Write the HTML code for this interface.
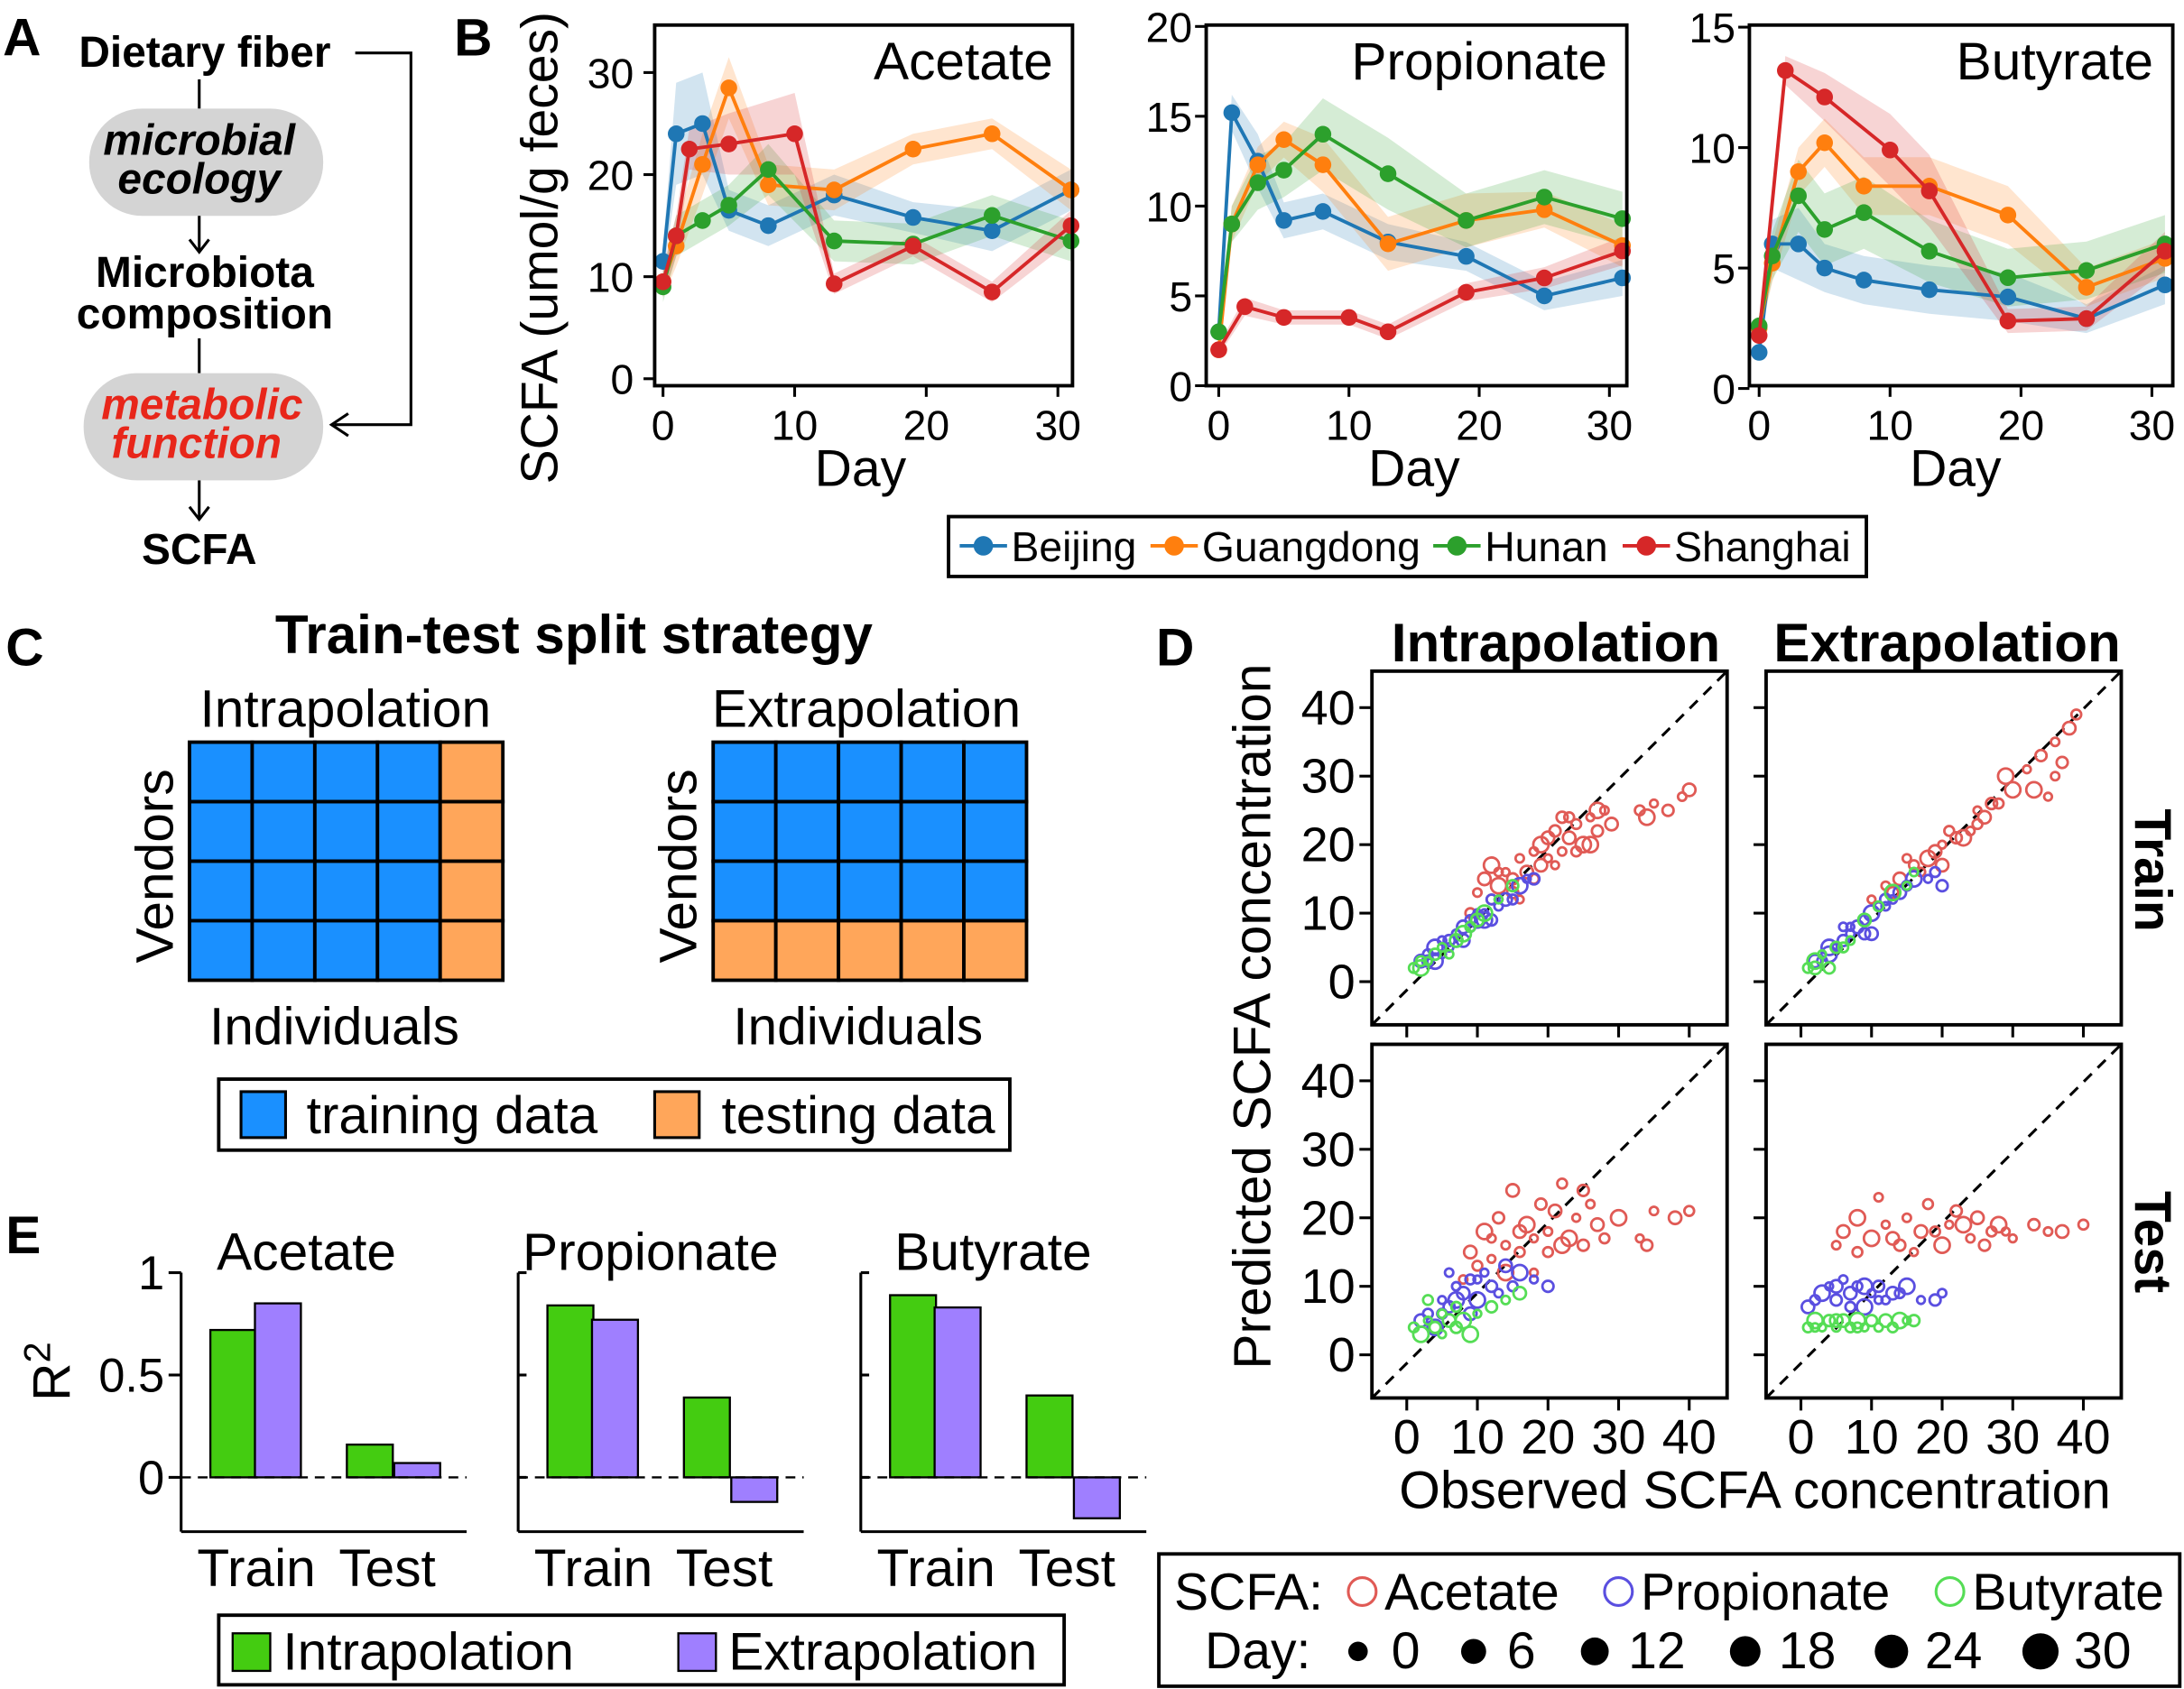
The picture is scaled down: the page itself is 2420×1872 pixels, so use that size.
<!DOCTYPE html>
<html><head><meta charset="utf-8"><style>
html,body{margin:0;padding:0;background:#fff}
svg{display:block}
text{font-family:"Liberation Sans",Arial,sans-serif;fill:#000}
</style></head><body>
<svg id="fig" width="2420" height="1872" viewBox="0 0 1568 1213" xmlns="http://www.w3.org/2000/svg">
<g>
<text x="2" y="40" font-size="38" font-weight="bold">A</text>
<text x="147" y="48" font-size="31" font-weight="bold" text-anchor="middle">Dietary fiber</text>
<polyline points="255,38 295,38 295,305 240,305" fill="none" stroke="#000" stroke-width="2"/>
<polyline points="250,297 238,305 250,313" fill="none" stroke="#000" stroke-width="2"/>
<line x1="143" y1="57" x2="143" y2="78" stroke="#000" stroke-width="2"/>
<rect x="64" y="78" width="168" height="77" rx="38" fill="#d4d4d4"/>
<text x="143" y="111" font-size="31" font-weight="bold" font-style="italic" text-anchor="middle">microbial</text>
<text x="143" y="139" font-size="31" font-weight="bold" font-style="italic" text-anchor="middle">ecology</text>
<line x1="143" y1="155" x2="143" y2="180" stroke="#000" stroke-width="2"/>
<polyline points="136,172 143,181 150,172" fill="none" stroke="#000" stroke-width="2"/>
<text x="147" y="206" font-size="31" font-weight="bold" text-anchor="middle">Microbiota</text>
<text x="147" y="236" font-size="31" font-weight="bold" text-anchor="middle">composition</text>
<line x1="143" y1="243" x2="143" y2="268" stroke="#000" stroke-width="2"/>
<rect x="60" y="268" width="172" height="77" rx="38" fill="#d4d4d4"/>
<text x="145" y="301" font-size="31" font-weight="bold" font-style="italic" text-anchor="middle" style="fill:#e8261a">metabolic</text>
<text x="141" y="329" font-size="31" font-weight="bold" font-style="italic" text-anchor="middle" style="fill:#e8261a">function</text>
<line x1="143" y1="345" x2="143" y2="372" stroke="#000" stroke-width="2"/>
<polyline points="136,364 143,373 150,364" fill="none" stroke="#000" stroke-width="2"/>
<text x="143" y="405" font-size="31" font-weight="bold" text-anchor="middle">SCFA</text>
</g>
<text x="326" y="40" font-size="38" font-weight="bold">B</text>
<text x="4" y="478" font-size="38" font-weight="bold">C</text>
<text x="830" y="478" font-size="38" font-weight="bold">D</text>
<text x="4" y="900" font-size="38" font-weight="bold">E</text>
<g id="gb"></g><g id="gc"></g><g id="gd"></g><g id="ge"></g>
</svg>
<script>
const NS='http://www.w3.org/2000/svg';
function mk(tag,attrs,parent){const e=document.createElementNS(NS,tag);for(const k in attrs)e.setAttribute(k,attrs[k]);parent.appendChild(e);return e;}
function tx(str,x,y,size,parent,extra){const e=mk('text',Object.assign({x:x,y:y,'font-size':size},extra||{}),parent);e.textContent=str;return e;}

/* ===== Panel B data ===== */
const cities=['Beijing','Guangdong','Hunan','Shanghai'];
const cityColors=['#1f77b4','#ff7f0e','#2ca02c','#d62728'];
const daysMain=[0,1,3,5,8,13,19,25,31];
const daysSh=[0,1,2,5,10,13,19,25,31];
const daysShP=[0,2,5,10,13,19,25,31];
const acetateBJ=[11.5,24,25,16.5,15,18,15.8,14.5,18.5];
const acetateGD=[9.5,13,21,28.5,19,18.5,22.5,24,18.5];
const acetateHN=[9,14,15.5,17,20.5,13.5,13.2,16,13.5];
const acetateSH=[9.5,14,22.5,23,24,9.3,13,8.5,15];
const propBJ=[3,15.2,12.5,9.2,9.7,8,7.2,5,6];
const propGD=[2,9,12.3,13.7,12.3,7.9,9.2,9.8,7.8];
const propHN=[3,9,11.3,12,14,11.8,9.2,10.5,9.3];
const propSH=[2,4.4,3.8,3.8,3,5.2,6,7.5];
const butBJ=[1.5,6,6,5,4.5,4.1,3.8,2.9,4.3];
const butGD=[2.5,5.2,9,10.2,8.4,8.4,7.2,4.2,5.4];
const butHN=[2.6,5.5,8,6.6,7.3,5.7,4.6,4.9,6];
const butSH=[2.2,13.2,12.1,9.9,8.2,2.8,2.9,5.7];
const acetateErr=[[1.5,5,5,2,2,2,1.5,2,2],[1.5,2,3,3,2,2,1.5,1.5,2],[1.5,2,2,2,2.5,2,2,2,2],[1.5,2,2,3,4,1,1,1,1.5]];
const propErr=[[0.5,1,1.5,1,1,1,0.8,0.8,1],[0.4,1,1,1,1.5,1.5,1.5,1,1.2],[0.5,1,1.5,1.5,2,2,1.5,1.5,1.5],[0.3,0.5,0.4,0.4,0.4,0.5,0.6,0.8]];
const butErr=[[0.3,1,1.5,1,1,1,1,0.6,0.8],[0.4,0.8,1,1,1.2,1.2,1.2,0.8,0.8],[0.4,1,1.5,1.5,1.5,1.3,1.2,1.2,1.2],[0.3,0.6,1,1.5,1.5,0.5,0.5,0.8]];
const dayTicks=[0,10,20,30];

const gb=document.getElementById('gb');
const bPanels=[
 {name:'acetate',title:'Acetate',box:[470,18,770,277],x0:476,dx:9.45,y0:272,dy:7.33,yt:[0,10,20,30],lx:455,
  series:[acetateBJ,acetateGD,acetateHN,acetateSH],days:[daysMain,daysMain,daysMain,daysSh],err:acetateErr},
 {name:'propionate',title:'Propionate',box:[866,18,1168,277],x0:875,dx:9.35,y0:277,dy:12.9,yt:[0,5,10,15,20],lx:856,
  series:[propBJ,propGD,propHN,propSH],days:[daysMain,daysMain,daysMain,daysShP],err:propErr},
 {name:'butyrate',title:'Butyrate',box:[1256,18,1560,277],x0:1263,dx:9.4,y0:279,dy:17.3,yt:[0,5,10,15],lx:1246,
  series:[butBJ,butGD,butHN,butSH],days:[daysMain,daysMain,daysMain,daysShP],err:butErr}
];
bPanels.forEach(p=>{
  const xs=d=>p.x0+d*p.dx, ys=v=>p.y0-v*p.dy;
  const g=mk('g',{},gb);
  
  
  p.series.forEach((vals,si)=>{
    const ds=p.days[si], er=p.err[si];
    let up=vals.map((v,i)=>xs(ds[i])+','+ys(v+er[i]));
    let dn=vals.map((v,i)=>xs(ds[i])+','+ys(Math.max(0,v-er[i]))).reverse();
    const band=mk('polygon',{points:up.concat(dn).join(' '),fill:cityColors[si],opacity:0.2},g);
    
    
  });
  p.series.forEach((vals,si)=>{
    const ds=p.days[si];
    const ln=mk('polyline',{points:vals.map((v,i)=>xs(ds[i])+','+ys(v)).join(' '),fill:'none',stroke:cityColors[si],'stroke-width':2.5},g);
    
    
    vals.forEach((v,i)=>{
      const c=mk('circle',{cx:xs(ds[i]),cy:ys(v),r:6,fill:cityColors[si]},g);
      
      
    });
  });
  const b=p.box;
  const fr=mk('rect',{x:b[0],y:b[1],width:b[2]-b[0],height:b[3]-b[1],fill:'none',stroke:'#000','stroke-width':2.5},g);
  
  
  p.yt.forEach(v=>{
    mk('line',{x1:b[0]-8,x2:b[0],y1:ys(v),y2:ys(v),stroke:'#000','stroke-width':2},g);
    const t=tx(String(v),p.lx,ys(v)+11,30,g,{'text-anchor':'end'});
    
    
  });
  dayTicks.forEach(d=>{
    mk('line',{x1:xs(d),x2:xs(d),y1:b[3],y2:b[3]+8,stroke:'#000','stroke-width':2},g);
    const t=tx(String(d),xs(d),b[3]+39,30,g,{'text-anchor':'middle'});
    
    
  });
  const xt=tx('Day',xs(15),b[3]+72,37,g,{'text-anchor':'middle'});
  
  
  const tt=tx(p.title,b[2]-14,57,38,g,{'text-anchor':'end'});
  
  
});
const yl=tx('SCFA (umol/g feces)',0,0,37,gb,{'text-anchor':'middle',transform:'translate(400,178) rotate(-90)'});


const lgB=mk('g',{},gb);


mk('rect',{x:681,y:371,width:659,height:43,fill:'#fff',stroke:'#000','stroke-width':2.5},lgB);
const legX=[689,826,1029,1165];
cities.forEach((c,i)=>{
  const e=mk('g',{},lgB);
  
  
  mk('line',{x1:legX[i],x2:legX[i]+34,y1:392,y2:392,stroke:cityColors[i],'stroke-width':2.5},e);
  mk('circle',{cx:legX[i]+17,cy:392,r:7,fill:cityColors[i]},e);
  tx(c,legX[i]+37,403,30,e);
});

/* ===== Panel C ===== */
const gc=document.getElementById('gc');
const BLUE='#1a90ff', ORANGE='#ffa65a';
const ct=tx('Train-test split strategy',412,469,39,gc,{'text-anchor':'middle','font-weight':'bold'});


const nCols=5,nRows=4;
[[136,'Intrapolation',248,'intrapolation'],[512,'Extrapolation',622,'extrapolation']].forEach((q,gi)=>{
  const g=mk('g',{},gc);
  
  
  const x0=q[0],y0=533,cw=45,rh=42.75;
  for(let r=0;r<nRows;r++)for(let c=0;c<nCols;c++){
    const test=gi===0?(c===nCols-1):(r===nRows-1);
    const cell=mk('rect',{x:x0+c*cw,y:y0+r*rh,width:cw,height:rh,fill:test?ORANGE:BLUE,stroke:'#000','stroke-width':2.5},g);
    
    
  }
  tx(q[1],q[2],522,38,g,{'text-anchor':'middle'});
  tx('Vendors',0,0,38,g,{'text-anchor':'middle',transform:'translate('+(x0-12)+',622) rotate(-90)'});
  tx('Individuals',x0+104,750,38,g,{'text-anchor':'middle'});
});
const lgC=mk('g',{},gc);


mk('rect',{x:157,y:775,width:568,height:51,fill:'#fff',stroke:'#000','stroke-width':2.5},lgC);
mk('rect',{x:173,y:784,width:32,height:33,fill:BLUE,stroke:'#000','stroke-width':2},lgC);
tx('training data',220,814,38,lgC);
mk('rect',{x:470,y:784,width:32,height:33,fill:ORANGE,stroke:'#000','stroke-width':2},lgC);
tx('testing data',518,814,38,lgC);

/* ===== Panel E ===== */
const acids=['Acetate','Propionate','Butyrate'];
const r2TrainIntra=[0.72,0.84,0.89];
const r2TrainExtra=[0.85,0.77,0.83];
const r2TestIntra=[0.16,0.39,0.40];
const r2TestExtra=[0.07,-0.12,-0.2];
const r2Ticks=[0,0.5,1];
const r2TickLabels=['0','0.5','1'];
const ge=document.getElementById('ge');
const GREEN='#44cc11', PURPLE='#9f7fff';
const eY=v=>1061-v*147;
const eOff=[130,372,618];
acids.forEach((a,i)=>{
  const x0=eOff[i];
  const g=mk('g',{},ge);
  
  
  mk('line',{x1:x0,x2:x0,y1:914,y2:1100,stroke:'#000','stroke-width':2},g);
  mk('line',{x1:x0,x2:x0+205,y1:1100,y2:1100,stroke:'#000','stroke-width':2},g);
  r2Ticks.forEach((v,k)=>{
    mk('line',{x1:i===0?x0-9:x0,x2:i===0?x0:x0+6,y1:eY(v),y2:eY(v),stroke:'#000','stroke-width':2},g);
    if(i===0){const t=tx(r2TickLabels[k],x0-12,eY(v)+12,34,g,{'text-anchor':'end'});
      
      }
  });
  const bars=[[r2TrainIntra[i],21,GREEN,'train-intrapolation'],[r2TrainExtra[i],53,PURPLE,'train-extrapolation'],[r2TestIntra[i],119,GREEN,'test-intrapolation'],[r2TestExtra[i],153,PURPLE,'test-extrapolation']];
  bars.forEach(bb=>{
    const v=bb[0],top=Math.min(eY(v),eY(0)),h=Math.abs(eY(v)-eY(0));
    const r=mk('rect',{x:x0+bb[1],y:top,width:33,height:h,fill:bb[2],stroke:'#000','stroke-width':1.5},g);
    
    
  });
  mk('line',{x1:x0,x2:x0+205,y1:eY(0),y2:eY(0),stroke:'#000','stroke-width':1.5,'stroke-dasharray':'7,5'},g);
  tx(a,x0+(i===0?90:95),912,38,g,{'text-anchor':'middle'});
  tx('Train',x0+54,1139,38,g,{'text-anchor':'middle'});
  tx('Test',x0+148,1139,38,g,{'text-anchor':'middle'});
});
const r2l=mk('text',{x:0,y:0,'font-size':38,'text-anchor':'middle',transform:'translate(50,985) rotate(-90)'},ge);
r2l.innerHTML='R<tspan dy="-14" font-size="27">2</tspan>';


const lgE=mk('g',{},ge);


mk('rect',{x:157,y:1160,width:607,height:50,fill:'#fff',stroke:'#000','stroke-width':2.5},lgE);
mk('rect',{x:167,y:1173,width:27,height:27,fill:GREEN,stroke:'#000','stroke-width':1.5},lgE);
tx('Intrapolation',203,1199,38,lgE);
mk('rect',{x:487,y:1173,width:27,height:27,fill:PURPLE,stroke:'#000','stroke-width':1.5},lgE);
tx('Extrapolation',523,1199,38,lgE);

/* ===== Panel D ===== */
const intraTrainAcetate=[[10,13],[11,15],[12,12],[13,14],[14,16],[15,13],[16,18],[17,16],[18,15],[19,20],[20,18],[21,22],[22,19],[23,21],[24,23],[25,20],[26,24],[27,22],[28,25],[29,23],[33,25],[34,24],[35,26],[37,25],[39,27],[40,28],[9,10],[12,17],[16,12],[22,24],[18,19],[20,21],[24,19],[26,20],[21,17],[15,15],[13,16],[19,17],[23,24],[27,25]];
const intraTrainProp=[[2,3],[3,4],[4,5],[5,4],[6,6],[7,7],[8,6],[9,8],[10,9],[11,10],[12,9],[13,11],[14,12],[15,12],[16,14],[17,15],[18,15],[5,6],[8,8],[12,12],[4,3],[10,10],[3,3],[6,5],[7,6],[9,9],[11,9],[13,12]];
const intraTrainBut=[[1,2],[2,2],[3,3],[4,4],[5,5],[7,6],[9,8],[11,10],[13,12],[15,14],[6,4],[10,9],[2,3],[8,7]];
const extraTrainAcetate=[[12,14],[14,15],[16,17],[18,18],[20,20],[22,21],[24,22],[26,24],[28,26],[30,28],[32,31],[34,33],[36,35],[38,37],[39,39],[33,28],[35,27],[37,32],[15,18],[20,17],[25,23],[29,30],[10,12],[27,26],[36,30],[19,19],[21,22],[23,21],[25,25],[13,13],[17,16]];
const extraTrainProp=[[2,3],[3,3],[4,4],[5,5],[6,6],[7,7],[8,8],[9,9],[10,10],[11,11],[12,12],[13,12],[14,13],[15,14],[16,15],[18,15],[20,14],[6,8],[10,7],[19,16],[4,5],[7,8],[9,7],[12,11]];
const extraTrainBut=[[1,2],[2,3],[3,4],[5,5],[7,6],[9,9],[11,11],[13,13],[15,14],[4,2],[16,16],[2,2],[6,5]];
const intraTestAcetate=[[8,11],[9,15],[10,13],[11,18],[12,14],[13,20],[14,16],[15,24],[16,15],[17,19],[18,17],[19,22],[20,18],[21,21],[22,25],[23,17],[24,20],[25,16],[26,22],[27,19],[28,17],[30,20],[33,17],[34,16],[35,21],[38,20],[40,21],[14,12],[18,12],[25,24],[12,17],[16,18],[20,15],[22,16]];
const intraTestProp=[[2,5],[3,6],[4,4],[5,8],[6,7],[7,10],[8,9],[9,11],[10,8],[11,12],[12,10],[13,9],[14,13],[15,10],[16,12],[18,11],[20,10],[6,12],[9,6],[5,6],[7,8],[10,11]];
const intraTestBut=[[1,4],[2,3],[3,5],[4,4],[5,6],[6,5],[7,7],[8,5],[10,6],[12,7],[14,8],[16,9],[3,8],[9,3],[5,3],[7,4]];
const extraTestAcetate=[[5,16],[6,18],[8,15],[10,17],[12,19],[14,16],[15,20],[17,18],[18,22],[20,16],[21,19],[22,21],[24,17],[25,20],[27,18],[28,19],[30,17],[33,19],[35,18],[37,18],[40,19],[8,20],[16,15],[26,16],[11,23],[13,17],[19,18],[23,19],[29,18]];
const extraTestProp=[[1,7],[2,8],[3,9],[4,10],[5,8],[6,11],[7,9],[8,10],[9,7],[10,9],[11,10],[12,8],[13,9],[14,9],[15,10],[17,8],[19,8],[20,9],[5,10],[7,7],[9,10],[11,8]];
const extraTestBut=[[1,4],[2,5],[3,4],[4,5],[5,4],[6,5],[7,4],[8,5],[9,4],[10,5],[11,4],[12,5],[13,4],[14,5],[15,5],[16,5],[2,4],[5,5],[8,4]];
const scTicks=[0,10,20,30,40];
const gd=document.getElementById('gd');
const sizeCycle=[3,4.5,3.5,5.5,2.8,4];
const scCols=['#e05a55','#5a4fe0','#55dd55'];
const panelsD=[
 {name:'intrapolation-train',x0:985,y0:482,sets:[intraTrainAcetate,intraTrainProp,intraTrainBut]},
 {name:'extrapolation-train',x0:1268,y0:482,sets:[extraTrainAcetate,extraTrainProp,extraTrainBut]},
 {name:'intrapolation-test',x0:985,y0:750,sets:[intraTestAcetate,intraTestProp,intraTestBut]},
 {name:'extrapolation-test',x0:1268,y0:750,sets:[extraTestAcetate,extraTestProp,extraTestBut]}
];
const W=255,H=254;
panelsD.forEach((p,pi)=>{
  const xs=v=>p.x0+25+v*5.07, ys=v=>p.y0+223-v*4.92;
  const g=mk('g',{},gd);
  
  
  mk('line',{x1:p.x0,y1:p.y0+H,x2:p.x0+W,y2:p.y0,stroke:'#000','stroke-width':2,'stroke-dasharray':'8,6'},g);
  p.sets.forEach((s,si)=>{
    s.forEach((pt,k)=>{
      const c=mk('circle',{cx:xs(pt[0]),cy:ys(pt[1]),r:sizeCycle[(k+si)%6],fill:'none',stroke:scCols[si],'stroke-width':1.8},g);
      
      
    });
  });
  mk('rect',{x:p.x0,y:p.y0,width:W,height:H,fill:'none',stroke:'#000','stroke-width':2.5},g);
  scTicks.forEach(v=>{
    mk('line',{x1:p.x0-9,x2:p.x0,y1:ys(v),y2:ys(v),stroke:'#000','stroke-width':2},g);
    mk('line',{x1:xs(v),x2:xs(v),y1:p.y0+H,y2:p.y0+H+9,stroke:'#000','stroke-width':2},g);
    if(pi%2===0){const t=tx(String(v),p.x0-12,ys(v)+12,35,g,{'text-anchor':'end'});
      
      }
    if(pi>=2){const t=tx(String(v),xs(v),p.y0+H+40,35,g,{'text-anchor':'middle'});
      
      }
  });
});
tx('Intrapolation',1117,475,39,gd,{'text-anchor':'middle','font-weight':'bold'});
tx('Extrapolation',1398,475,39,gd,{'text-anchor':'middle','font-weight':'bold'});
tx('Train',0,0,37,gd,{'text-anchor':'middle','font-weight':'bold',transform:'translate(1533,625) rotate(90)'});
tx('Test',0,0,37,gd,{'text-anchor':'middle','font-weight':'bold',transform:'translate(1533,892) rotate(90)'});
const dxl=tx('Observed SCFA concentration',1260,1083,38,gd,{'text-anchor':'middle'});


const dyl=tx('Predicted SCFA concentration',0,0,38,gd,{'text-anchor':'middle',transform:'translate(912,730) rotate(-90)'});


const lgD=mk('g',{},gd);


mk('rect',{x:832,y:1116,width:733,height:95,fill:'#fff',stroke:'#000','stroke-width':2.5},lgD);
tx('SCFA:',843,1156,37,lgD);
const legAcX=[978,1162,1400],legAcN=['Acetate','Propionate','Butyrate'];
legAcN.forEach((n,i)=>{mk('circle',{cx:legAcX[i],cy:1143,r:10,fill:'none',stroke:scCols[i],'stroke-width':2},lgD);tx(n,legAcX[i]+16,1156,37,lgD);});
tx('Day:',865,1198,37,lgD);
const legDays=['0','6','12','18','24','30'],legDayX=[975,1058,1145,1253,1358,1465],legDayR=[7,9,10,11,12,13];
legDays.forEach((d,i)=>{mk('circle',{cx:legDayX[i],cy:1186,r:legDayR[i],fill:'#000'},lgD);tx(d,legDayX[i]+24,1198,37,lgD);});
</script>
</body></html>
